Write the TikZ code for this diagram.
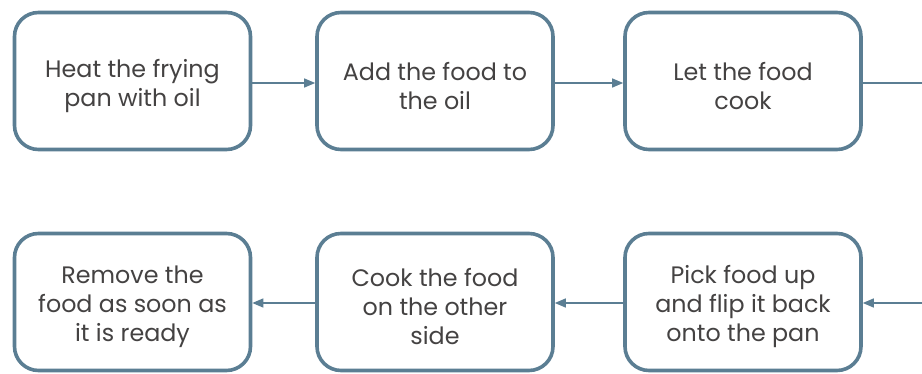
\documentclass[tikz,border=0pt]{standalone}
\usepackage{fontspec}
\setmainfont{Poppins}
\usetikzlibrary{arrows.meta}
\definecolor{edgeblue}{HTML}{5B7E93}
\definecolor{txtgray}{HTML}{444242}
\newcommand\toppad{\rule{0pt}{28pt}}
\begin{document}
\begin{tikzpicture}[x=1pt,y=1pt,
  stepbox/.style={draw=edgeblue, line width=3.6pt, rounded corners=24pt,
    minimum width=236pt, minimum height=137pt, align=center,
    text=txtgray, font=\fontsize{23.8}{29}\selectfont, inner sep=0pt},
  flow/.style={draw=edgeblue, line width=1.3pt, -{Triangle[length=11pt,width=9pt]}}]
\useasboundingbox (0,0) rectangle (922,374);
\node[stepbox] (a) at (132.5,293) {\toppad Heat the frying\\pan with oil};
\node[stepbox] (b) at (435,293) {\toppad Add the food to\\the oil};
\node[stepbox] (c) at (743,293) {\toppad Let the food\\cook};
\node[stepbox] (f) at (132.5,72) {\toppad Remove the\\food as soon as\\it is ready};
\node[stepbox] (e) at (435,72) {\toppad Cook the food\\on the other\\side};
\node[stepbox] (d) at (743,72) {\toppad Pick food up\\and flip it back\\onto the pan};
\coordinate (outtop) at (922,291);
\coordinate (inbot) at (922,71);
\draw[flow] (a.east |- 0,291) -- (b.west |- 0,291);
\draw[flow] (b.east |- 0,291) -- (c.west |- 0,291);
\draw[draw=edgeblue, line width=1.3pt] (c.east |- outtop) -- (outtop);
\draw[flow] (inbot) -- (d.east |- inbot);
\draw[flow] (d.west |- inbot) -- (e.east |- inbot);
\draw[flow] (e.west |- inbot) -- (f.east |- inbot);
\end{tikzpicture}
\end{document}
